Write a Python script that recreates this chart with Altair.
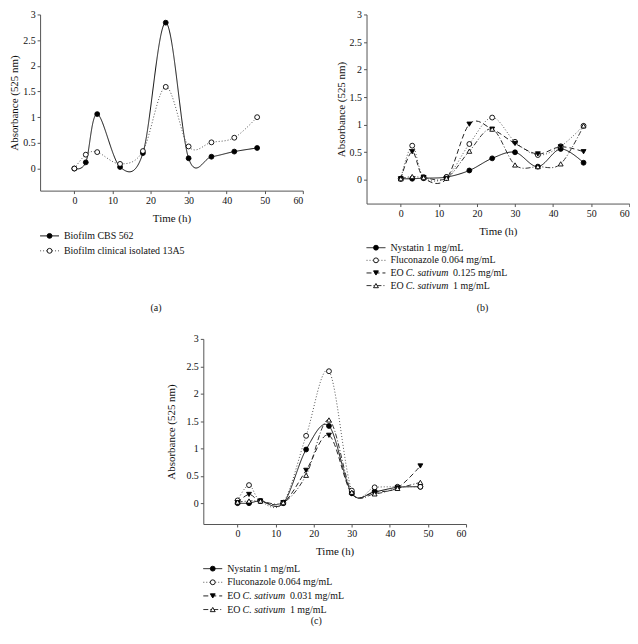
import altair as alt
import pandas as pd

FONT = "Liberation Serif"

times = [0, 3, 6, 12, 18, 24, 30, 36, 42, 48]

# style keys
styles = ["solid_fill", "dot_open", "dash_down", "dashdot_up"]
dashes = [[1, 0], [1, 2], [5, 3], [5, 2, 1, 2]]
shapes = ["circle", "circle", "triangle-down", "triangle-up"]
fills = ["black", "white", "black", "white"]
line_colors = ["#111111", "#555555", "#222222", "#333333"]

# panel (a)
a_labels = [("Biofilm CBS 562", "", ""), ("Biofilm clinical isolated 13A5", "", "")]
a_styles = ["solid_fill", "dot_open"]
a_cbs = [0.0, 0.12, 1.06, 0.03, 0.30, 2.84, 0.20, 0.23, 0.33, 0.40]
a_clin = [0.0, 0.27, 0.32, 0.09, 0.34, 1.59, 0.43, 0.51, 0.60, 1.00]

# panel (b)
b_labels = [("Nystatin 1 mg/mL", "", ""), ("Fluconazole 0.064 mg/mL", "", ""),
            ("EO ", "C. sativum", "0.125 mg/mL"), ("EO ", "C. sativum", "1 mg/mL")]
b_nyst = [0.02, 0.02, 0.03, 0.05, 0.17, 0.39, 0.50, 0.24, 0.56, 0.31]
b_fluc = [0.02, 0.62, 0.05, 0.05, 0.65, 1.13, 0.69, 0.45, 0.61, 0.98]
b_eo_low = [0.02, 0.51, 0.04, 0.02, 1.01, 0.92, 0.66, 0.47, 0.60, 0.51]
b_eo_high = [0.02, 0.06, 0.04, 0.03, 0.52, 0.92, 0.27, 0.24, 0.29, 0.98]

# panel (c)
c_labels = [("Nystatin 1 mg/mL", "", ""), ("Fluconazole 0.064 mg/mL", "", ""),
            ("EO ", "C. sativum", "0.031 mg/mL"), ("EO ", "C. sativum", "1 mg/mL")]
c_nyst = [0.0, 0.0, 0.04, 0.0, 0.98, 1.41, 0.18, 0.21, 0.29, 0.30]
c_fluc = [0.05, 0.33, 0.04, 0.01, 1.23, 2.41, 0.23, 0.29, 0.30, 0.30]
c_eo_low = [0.01, 0.16, 0.04, 0.01, 0.60, 1.24, 0.17, 0.20, 0.28, 0.68]
c_eo_high = [0.02, 0.04, 0.04, 0.01, 0.51, 1.52, 0.20, 0.17, 0.27, 0.38]

x_ticks = [0, 10, 20, 30, 40, 50, 60]
y_ticks = [0, 0.5, 1, 1.5, 2, 2.5, 3]

dash_scale = alt.Scale(domain=styles, range=dashes)
shape_scale = alt.Scale(domain=styles, range=shapes)
fill_scale = alt.Scale(domain=styles, range=fills)
color_scale = alt.Scale(domain=styles, range=line_colors)


def long_df(series_list, style_list):
    rows = []
    for vals, sty in zip(series_list, style_list):
        for t, v in zip(times, vals):
            rows.append({"time": t, "value": v, "sty": sty})
    return pd.DataFrame(rows)


def plot_panel(series_list, style_list, width, height, ymin, ytitle_pad):
    df = long_df(series_list, style_list)
    x = alt.X("time:Q", title="Time (h)",
              scale=alt.Scale(domain=[-9, 60], nice=False, zero=False),
              axis=alt.Axis(values=x_ticks, format="d"))
    y = alt.Y("value:Q", title="Absorbance (525 nm)",
              scale=alt.Scale(domain=[ymin, 3], nice=False, zero=False),
              axis=alt.Axis(values=y_ticks, format="~r", titlePadding=ytitle_pad))
    base = alt.Chart(df).encode(x=x, y=y)
    lines = base.mark_line(interpolate="cardinal", strokeWidth=1).encode(
        strokeDash=alt.StrokeDash("sty:N", scale=dash_scale, legend=None),
        color=alt.Color("sty:N", scale=color_scale, legend=None),
        detail="sty:N",
    )
    pts = base.mark_point(filled=True, stroke="black", strokeWidth=0.9, opacity=1, size=24).encode(
        shape=alt.Shape("sty:N", scale=shape_scale, legend=None),
        fill=alt.Fill("sty:N", scale=fill_scale, legend=None),
    )
    return alt.layer(lines, pts).properties(width=width, height=height)


def legend_panel(labels, style_list, step):
    n = len(labels)
    seg_rows, pt_rows, txt_rows = [], [], []
    w_pre_eo = 15.5
    w_ital = 47.5
    for i, (lab, sty) in enumerate(zip(labels, style_list)):
        seg_rows.append({"lx": 0, "row": i, "sty": sty})
        seg_rows.append({"lx": 19, "row": i, "sty": sty})
        pt_rows.append({"lx": 9.5, "row": i, "sty": sty})
        pre, ital, post = lab
        txt_rows.append({"lx": 24, "row": i, "txt": pre, "it": False})
        if ital:
            txt_rows.append({"lx": 24 + w_pre_eo, "row": i, "txt": ital, "it": True})
            txt_rows.append({"lx": 24 + w_pre_eo + w_ital, "row": i, "txt": post, "it": False})
    xs = alt.Scale(domain=[0, 200], nice=False, zero=False)
    ys = alt.Scale(domain=[-0.5, n - 0.5], reverse=True, nice=False, zero=False)
    X = alt.X("lx:Q", scale=xs, axis=None)
    Y = alt.Y("row:Q", scale=ys, axis=None)
    seg = alt.Chart(pd.DataFrame(seg_rows)).mark_line(strokeWidth=1).encode(
        x=X, y=Y, detail="sty:N",
        color=alt.Color("sty:N", scale=color_scale, legend=None),
        strokeDash=alt.StrokeDash("sty:N", scale=dash_scale, legend=None))
    pt = alt.Chart(pd.DataFrame(pt_rows)).mark_point(filled=True, stroke="black", strokeWidth=0.9,
                                                     opacity=1, size=24).encode(
        x=X, y=Y,
        shape=alt.Shape("sty:N", scale=shape_scale, legend=None),
        fill=alt.Fill("sty:N", scale=fill_scale, legend=None))
    tdf = pd.DataFrame(txt_rows)
    t_norm = alt.Chart(tdf).transform_filter("!datum.it").mark_text(
        align="left", baseline="middle", font=FONT, fontSize=10, color="#111").encode(
        x=X, y=Y, text="txt:N")
    t_it = alt.Chart(tdf).transform_filter("datum.it").mark_text(
        align="left", baseline="middle", font=FONT, fontSize=10, fontStyle="italic", color="#111").encode(
        x=X, y=Y, text="txt:N")
    return alt.layer(seg, pt, t_norm, t_it).properties(width=200, height=step * n)


def column(plot, legend, label, offset):
    return alt.vconcat(plot, legend, spacing=5,
                       title=alt.TitleParams(label, orient="bottom", anchor="middle", frame="bounds",
                                             offset=offset, font=FONT,
                                             fontSize=10, fontWeight="normal", color="#111")
                       ).resolve_scale(x="independent", y="independent")


pa = plot_panel([a_cbs, a_clin], a_styles, 264, 177, -0.43, 3)
la = legend_panel(a_labels, a_styles, 15)
pb = plot_panel([b_nyst, b_fluc, b_eo_low, b_eo_high], styles, 264, 190, -0.43, 3)
lb = legend_panel(b_labels, styles, 12.7)
pc = plot_panel([c_nyst, c_fluc, c_eo_low, c_eo_high], styles, 264, 186, -0.38, 9)
lc = legend_panel(c_labels, styles, 13.7)

col_a = column(pa, la, "(a)", 45)
col_b = column(pb, lb, "(b)", 11)
col_c = column(pc, lc, "(c)", 0)

top = alt.hconcat(col_a, col_b, spacing=31).resolve_scale(x="independent", y="independent")
chart = alt.vconcat(top, col_c, spacing=21, center=True).resolve_scale(
    x="independent", y="independent"
).properties(padding={"left": 0, "top": 0, "right": 0, "bottom": 0}).configure_view(
    stroke=None
).configure_axis(
    grid=False, labelFont=FONT, titleFont=FONT, labelFontSize=10, titleFontSize=11,
    titleFontWeight="normal", labelColor="#111", titleColor="#111", domainColor="#555",
    tickColor="#555", tickSize=3, labelPadding=2
).configure_axisX(titlePadding=7)

chart.save("out.html", embed_options={"renderer": "svg", "actions": False})
